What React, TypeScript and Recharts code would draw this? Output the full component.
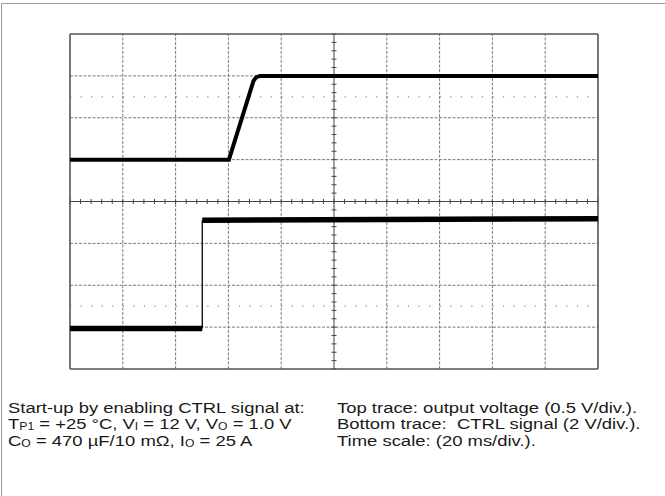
import { LineChart, Line, XAxis, YAxis, ReferenceLine } from 'recharts';

// time in ms (20 ms/div, 10 div), vertical in divisions (0 = bottom, 8 = top)
const X_GRID = [20, 40, 60, 80, 120, 140, 160, 180];
const Y_GRID = [1, 2, 3, 5, 6, 7];
const DOT_ROWS = [6.5, 1.5];
const MINOR_X = Array.from({ length: 51 }, (_, i) => i * 4);
const MINOR_Y = Array.from({ length: 41 }, (_, i) => i * 0.2);

// top trace: output voltage
const VOUT = [
  { x: 0, y: 5.0 },
  { x: 60.2, y: 5.0 },
  { x: 69.5, y: 6.88 },
  { x: 70.6, y: 6.97 },
  { x: 72, y: 7.0 },
  { x: 200, y: 7.0 },
];

// bottom trace: CTRL signal
const CTRL_LOW = [
  { x: 0, y: 0.97 },
  { x: 50.1, y: 0.97 },
];
const CTRL_EDGE = [
  { x: 50.1, y: 0.97 },
  { x: 50.1, y: 3.55 },
];
const CTRL_HIGH = [
  { x: 50.1, y: 3.55 },
  { x: 120, y: 3.57 },
  { x: 200, y: 3.59 },
];

const W = 665;
const H = 496;
const GRID = '#7a7a7a';
const TEXT_STYLE: React.CSSProperties = {
  position: 'absolute',
  top: 400,
  fontFamily: '"Liberation Sans", Arial, sans-serif',
  fontSize: 15.5,
  lineHeight: '16.3px',
  color: '#1a1a1a',
  whiteSpace: 'pre',
  transform: 'scaleX(1.19)',
  transformOrigin: 'left top',
};
const SUB: React.CSSProperties = { fontSize: '0.66em', verticalAlign: '-1px', lineHeight: 0 };

export default function App() {
  return (
    <div style={{ position: 'absolute', left: 0, top: 0, width: W, height: H, background: '#fff', overflow: 'hidden' }}>
      <div
        style={{
          position: 'absolute', left: 1, top: 3, width: W, height: H,
          borderLeft: '1px solid #9a9a9a', borderTop: '1px solid #9a9a9a',
        }}
      />
      <div style={{ position: 'absolute', left: 0, top: 0 }}>
        <LineChart width={W} height={H} margin={{ top: 34, right: 67, bottom: 127, left: 70 }}>
          <XAxis type="number" dataKey="x" domain={[0, 200]} hide />
          <YAxis type="number" dataKey="y" domain={[0, 8]} hide />

          {X_GRID.map(v => (
            <ReferenceLine key={`gx${v}`} x={v} stroke={GRID} strokeDasharray="3 1.5" strokeWidth={1} />
          ))}
          {Y_GRID.map(v => (
            <ReferenceLine key={`gy${v}`} y={v} stroke={GRID} strokeDasharray="3 1.5" strokeWidth={1} />
          ))}
          {DOT_ROWS.map(v => (
            <ReferenceLine key={`dr${v}`} y={v} stroke="#888" strokeDasharray="1.2 9.36" strokeWidth={1.2} />
          ))}

          <ReferenceLine x={100} stroke="#444" strokeWidth={1} />
          <ReferenceLine y={4} stroke="#444" strokeWidth={1} />
          {MINOR_X.map(v => (
            <ReferenceLine key={`mx${v}`} segment={[{ x: v, y: 3.94 }, { x: v, y: 4.06 }]} stroke="#444" strokeWidth={1} />
          ))}
          {MINOR_Y.map(v => (
            <ReferenceLine key={`my${v}`} segment={[{ x: 99.05, y: v }, { x: 100.95, y: v }]} stroke="#444" strokeWidth={1} />
          ))}

          <ReferenceLine x={0} stroke="#555" strokeWidth={1.6} />
          <ReferenceLine x={200} stroke="#555" strokeWidth={1.6} />
          <ReferenceLine y={0} stroke="#555" strokeWidth={1.6} />
          <ReferenceLine y={8} stroke="#555" strokeWidth={1.6} />

          <Line data={VOUT} dataKey="y" type="linear" stroke="#000" strokeWidth={4} dot={false} activeDot={false} isAnimationActive={false} />
          <Line data={CTRL_LOW} dataKey="y" type="linear" stroke="#000" strokeWidth={5.5} dot={false} activeDot={false} isAnimationActive={false} />
          <Line data={CTRL_EDGE} dataKey="y" type="linear" stroke="#000" strokeWidth={1.3} dot={false} activeDot={false} isAnimationActive={false} />
          <Line data={CTRL_HIGH} dataKey="y" type="linear" stroke="#000" strokeWidth={5.5} dot={false} activeDot={false} isAnimationActive={false} />
        </LineChart>
      </div>

      <div style={{ ...TEXT_STYLE, left: 8 }}>
        <div>Start-up by enabling CTRL signal at:</div>
        <div>
          T<sub style={SUB}>P1</sub> = +25 °C, V<sub style={SUB}>I</sub> = 12 V, V<sub style={SUB}>O</sub> = 1.0 V
        </div>
        <div>
          C<sub style={SUB}>O</sub> = 470 µF/10 mΩ, I<sub style={SUB}>O</sub> = 25 A
        </div>
      </div>
      <div style={{ ...TEXT_STYLE, left: 337 }}>
        <div>Top trace: output voltage (0.5 V/div.).</div>
        <div>Bottom trace:  CTRL signal (2 V/div.).</div>
        <div>Time scale: (20 ms/div.).</div>
      </div>
    </div>
  );
}
